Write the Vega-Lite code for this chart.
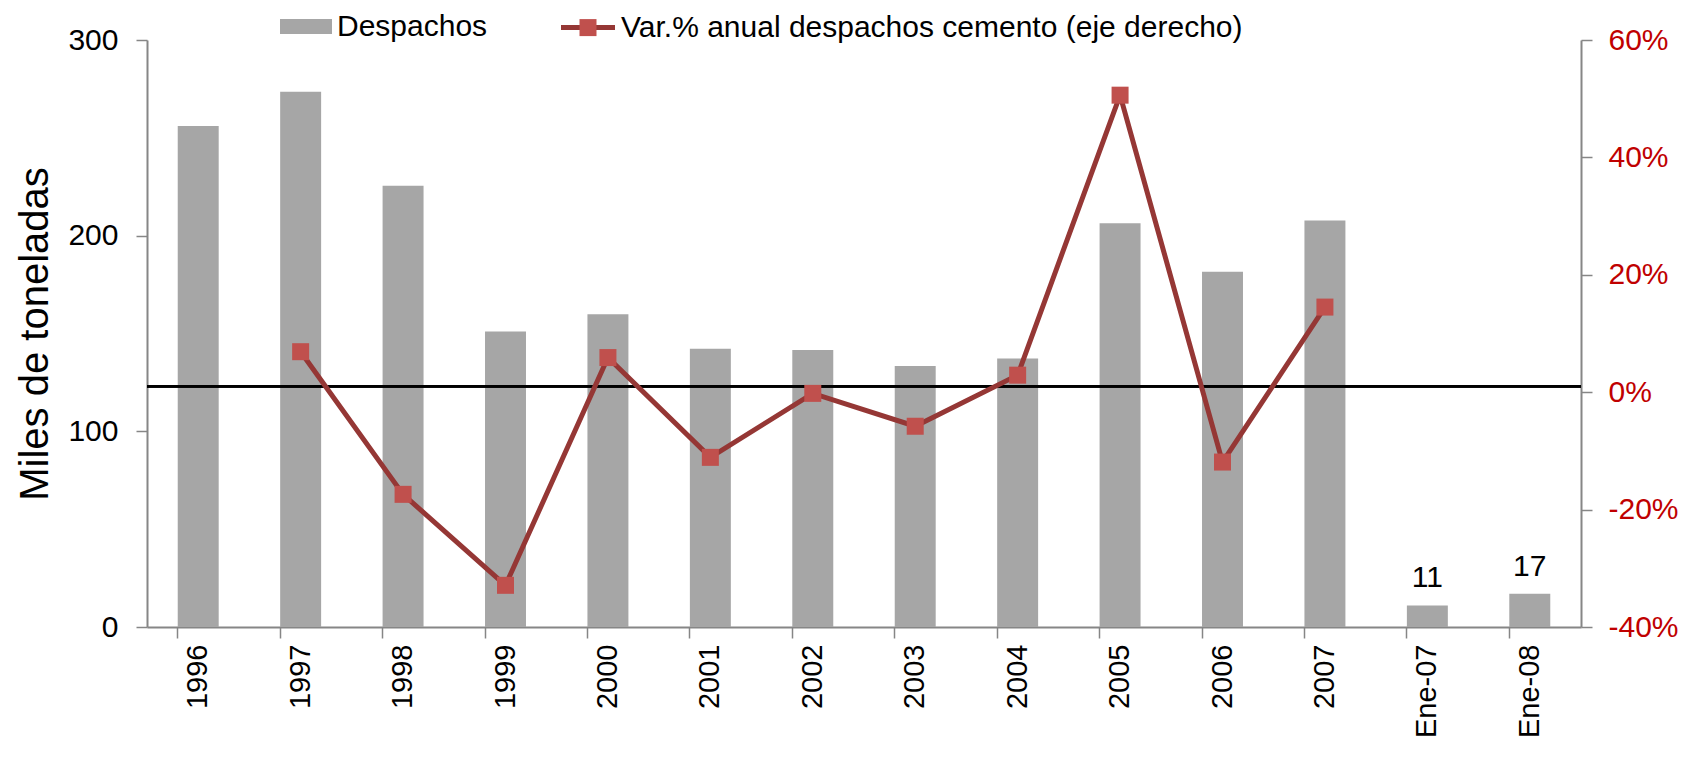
{
  "$schema": "https://vega.github.io/schema/vega-lite/v6.json",
  "width": 1434,
  "height": 587,
  "autosize": {"type": "none"},
  "padding": {"left": 147, "top": 40, "right": 104, "bottom": 130},
  "background": "white",
  "config": {
    "font": "Liberation Sans",
    "view": {"stroke": null},
    "legend": {"padding": 0, "offset": 0, "titlePadding": 0}
  },
  "data": {
    "values": [
      {"cat": "1996", "despachos": 256, "var": null, "label": ""},
      {"cat": "1997", "despachos": 273.5, "var": 0.069, "label": ""},
      {"cat": "1998", "despachos": 225.5, "var": -0.174, "label": ""},
      {"cat": "1999", "despachos": 151, "var": -0.329, "label": ""},
      {"cat": "2000", "despachos": 159.8, "var": 0.059, "label": ""},
      {"cat": "2001", "despachos": 142.2, "var": -0.111, "label": ""},
      {"cat": "2002", "despachos": 141.6, "var": -0.002, "label": ""},
      {"cat": "2003", "despachos": 133.4, "var": -0.058, "label": ""},
      {"cat": "2004", "despachos": 137.2, "var": 0.029, "label": ""},
      {"cat": "2005", "despachos": 206.4, "var": 0.506, "label": ""},
      {"cat": "2006", "despachos": 181.6, "var": -0.119, "label": ""},
      {"cat": "2007", "despachos": 207.8, "var": 0.145, "label": ""},
      {"cat": "Ene-07", "despachos": 11, "var": null, "label": "11"},
      {"cat": "Ene-08", "despachos": 17, "var": null, "label": "17"}
    ]
  },
  "layer": [
    {
      "layer": [
        {
          "mark": {"type": "bar", "color": "#A6A6A6"},
          "encoding": {
            "x": {
              "field": "cat", "type": "nominal", "sort": null,
              "scale": {"paddingInner": 0.6, "paddingOuter": 0.3},
              "axis": {
                "title": null, "bandPosition": 0,
                "labelAngle": -90, "labelFontSize": 29, "labelColor": "black",
                "labelPadding": 6, "tickSize": 11, "tickColor": "#868686",
                "tickWidth": 1.5, "domainColor": "#868686", "domainWidth": 2,
                "grid": false, "labelFlush": false, "labelOverlap": false
              }
            },
            "y": {
              "field": "despachos", "type": "quantitative",
              "scale": {"domain": [0, 300], "nice": false},
              "axis": {
                "orient": "left", "title": "Miles de toneladas", "values": [0, 100, 200, 300],
                "titleFontSize": 40, "titleFontWeight": "normal", "titleColor": "black",
                "titlePadding": 12, "labelFontSize": 30, "labelColor": "black",
                "labelPadding": 18, "tickSize": 11, "tickColor": "#868686", "tickWidth": 1.5,
                "domainColor": "#868686", "domainWidth": 2, "grid": false
              }
            },
            "fill": {
              "datum": "Despachos", "type": "nominal",
              "scale": {"range": ["#A6A6A6"]},
              "legend": {
                "title": null, "orient": "none", "legendX": 133, "legendY": -39.5,
                "symbolType": "M-1,-0.29H1V0.29H-1Z", "symbolSize": 2704,
                "symbolStrokeWidth": 0, "labelFontSize": 30, "labelColor": "black",
                "labelOffset": 5, "labelLimit": 800
              }
            }
          }
        },
        {
          "mark": {"type": "text", "fontSize": 30, "color": "black", "baseline": "alphabetic", "dy": -18},
          "encoding": {
            "x": {"field": "cat", "type": "nominal", "sort": null},
            "y": {"field": "despachos", "type": "quantitative"},
            "text": {"field": "label"}
          }
        }
      ]
    },
    {
      "transform": [{"filter": "datum['var'] != null"}],
      "layer": [
        {
          "mark": {"type": "rule", "color": "black", "strokeWidth": 2},
          "encoding": {"y": {"datum": 0.01, "type": "quantitative"}}
        },
        {
          "mark": {"type": "line", "color": "#953735", "strokeWidth": 5},
          "encoding": {
            "x": {"field": "cat", "type": "nominal", "sort": null},
            "y": {
              "field": "var", "type": "quantitative",
              "scale": {"domain": [-0.4, 0.6], "nice": false},
              "axis": {
                "orient": "right", "title": null,
                "values": [-0.4, -0.2, 0, 0.2, 0.4, 0.6],
                "labelExpr": "replace(format(datum.value, '.0%'), '\u2212', '-')",
                "labelFontSize": 30, "labelColor": "#C00000", "labelPadding": 16,
                "tickSize": 11, "tickColor": "#868686", "tickWidth": 1.5,
                "domainColor": "#868686", "domainWidth": 2, "grid": false
              }
            },
            "stroke": {
              "datum": "Var.% anual despachos cemento (eje derecho)", "type": "nominal",
              "scale": {"range": ["#953735"]},
              "legend": {
                "title": null, "orient": "none", "legendX": 411.5, "legendY": -41.9,
                "symbolType": "stroke", "symbolSize": 2916, "symbolStrokeWidth": 5,
                "labelFontSize": 30, "labelColor": "black", "labelOffset": 3.5,
                "labelLimit": 900, "zindex": 1
              }
            }
          }
        },
        {
          "mark": {"type": "point", "shape": "square", "filled": true, "size": 289, "opacity": 1, "strokeWidth": 0},
          "encoding": {
            "x": {"field": "cat", "type": "nominal", "sort": null},
            "y": {"field": "var", "type": "quantitative"},
            "fill": {
              "datum": "marcador", "type": "nominal",
              "scale": {"range": ["#C0504D"]},
              "legend": {
                "title": null, "orient": "none", "legendX": 432.5, "legendY": -20.9,
                "symbolType": "square", "symbolSize": 289, "symbolStrokeWidth": 0,
                "symbolOpacity": 1, "labelFontSize": 1, "labelExpr": "''", "zindex": 2
              }
            }
          }
        }
      ]
    }
  ],
  "resolve": {"scale": {"y": "independent", "fill": "independent"}}
}
